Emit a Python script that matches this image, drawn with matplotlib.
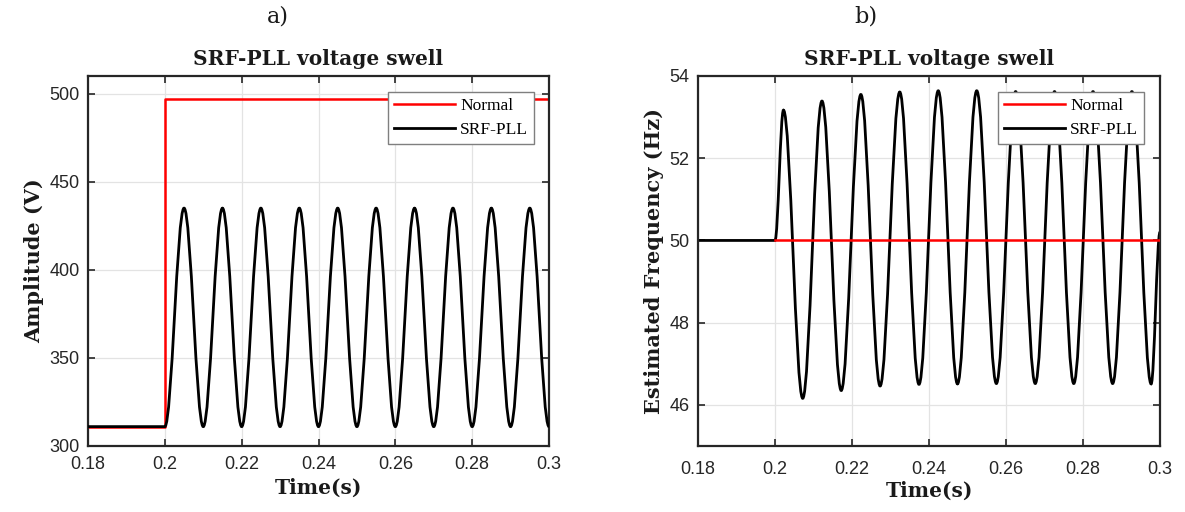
#!/usr/bin/env python3
"""SRF-PLL response to a voltage swell: amplitude and estimated frequency."""

import matplotlib
matplotlib.use("Agg")
import matplotlib.pyplot as plt
from matplotlib.path import Path
from matplotlib.patches import PathPatch
from matplotlib.lines import Line2D

# ---- data (extrema of each waveform) ----
# a) amplitude
normal_a_t = [0.18, 0.20, 0.20, 0.30]
normal_a_v = [311, 311, 497, 497]

srf_a_t = [0.180, 0.200, 0.205, 0.210, 0.215, 0.220, 0.225, 0.230, 0.235,
           0.240, 0.245, 0.250, 0.255, 0.260, 0.265, 0.270, 0.275, 0.280,
           0.285, 0.290, 0.295, 0.300]
srf_a_v = [311, 311, 435, 311, 435, 311, 435, 311, 435,
           311, 435, 311, 435, 311, 435, 311, 435, 311,
           435, 311, 435, 311]

# b) estimated frequency
normal_b_t = [0.20, 0.30]
normal_b_v = [50.0, 50.0]

srf_b_t = [0.180, 0.2000, 0.2022, 0.2072, 0.2122, 0.2172, 0.2223, 0.2273,
           0.2324, 0.2374, 0.2424, 0.2474, 0.2524, 0.2575, 0.2625, 0.2676,
           0.2726, 0.2776, 0.2826, 0.2877, 0.2927, 0.2977, 0.3000]
srf_b_v = [50.0, 50.0, 53.17, 46.16, 53.39, 46.35, 53.55, 46.46,
           53.61, 46.50, 53.64, 46.51, 53.64, 46.52, 53.62, 46.52,
           53.62, 46.52, 53.62, 46.52, 53.62, 46.51, 50.2]

x_ticks = [0.18, 0.2, 0.22, 0.24, 0.26, 0.28, 0.3]
x_tick_labels = ["0.18", "0.2", "0.22", "0.24", "0.26", "0.28", "0.3"]
a_y_ticks = [300, 350, 400, 450, 500]
b_y_ticks = [46, 48, 50, 52, 54]

SERIF = "DejaVu Serif"
LEG_SERIF = "Liberation Serif"
SANS = "Liberation Sans"
AX_COLOR = "#262626"


def smooth_path(t, v, k=0.364):
    """Cubic Bezier through the extrema with flat tangents (sine-like)."""
    verts = [(t[0], v[0])]
    codes = [Path.MOVETO]
    for i in range(len(t) - 1):
        dt = t[i + 1] - t[i]
        verts += [(t[i] + k * dt, v[i]), (t[i + 1] - k * dt, v[i + 1]),
                  (t[i + 1], v[i + 1])]
        codes += [Path.CURVE4] * 3
    return Path(verts, codes)


def style_axes(ax, title, ylabel, yticks, ylim, xpad, xlabelpad):
    ax.set_xlim(0.18, 0.3)
    ax.set_ylim(*ylim)
    ax.set_xticks(x_ticks)
    ax.set_xticklabels(x_tick_labels)
    ax.set_yticks(yticks)
    ax.tick_params(direction="in", length=5, width=1.2, top=True, right=True,
                   colors=AX_COLOR, labelsize=13)
    ax.tick_params(axis="x", pad=xpad)
    ax.tick_params(axis="y", pad=6)
    for lab in ax.get_xticklabels() + ax.get_yticklabels():
        lab.set_fontfamily(SANS)
    for s in ax.spines.values():
        s.set_color(AX_COLOR)
        s.set_linewidth(1.6)
    ax.grid(True, color="#e3e3e3", linewidth=0.9)
    ax.set_axisbelow(True)
    ax.set_title(title, fontfamily=SERIF, fontweight="bold", fontsize=14.5,
                 pad=8, color="#1a1a1a")
    ax.set_xlabel("Time(s)", fontfamily=SERIF, fontweight="bold", fontsize=14.5,
                  color="#1a1a1a", labelpad=xlabelpad)
    ax.set_ylabel(ylabel, fontfamily=SERIF, fontweight="bold", fontsize=15,
                  color="#1a1a1a", labelpad=4)


def add_legend(ax, anchor):
    handles = [Line2D([], [], color="#ff0000", lw=1.8),
               Line2D([], [], color="black", lw=2.0)]
    leg = ax.legend(handles, ["Normal", "SRF-PLL"], loc="upper right",
                    bbox_to_anchor=anchor, borderaxespad=0, handlelength=3.5,
                    fancybox=False, framealpha=1, edgecolor="#7f7f7f",
                    prop={"family": LEG_SERIF, "size": 12.5}, borderpad=0.35,
                    labelspacing=0.45, handletextpad=0.3)
    leg.get_frame().set_linewidth(1.0)
    leg.set_zorder(10)


fig = plt.figure(figsize=(11.85, 5.12), dpi=100)
ax1 = fig.add_axes([88 / 1185, 1 - 446 / 512, 461 / 1185, 370 / 512])
ax2 = fig.add_axes([698 / 1185, 1 - 446 / 512, 462 / 1185, 370 / 512])

# a) amplitude
ax1.plot(normal_a_t, normal_a_v, color="#ff0000", lw=1.8, zorder=2)
ax1.add_patch(PathPatch(smooth_path(srf_a_t, srf_a_v), fill=False,
                        edgecolor="black", lw=2.0, zorder=3))
style_axes(ax1, "SRF-PLL voltage swell", "Amplitude (V)", a_y_ticks,
           (300, 510), 7, 4)
add_legend(ax1, (1 - 15 / 461, 1 - 16 / 370))

# b) frequency
ax2.add_patch(PathPatch(smooth_path(srf_b_t, srf_b_v), fill=False,
                        edgecolor="black", lw=2.0, zorder=2))
ax2.plot(normal_b_t, normal_b_v, color="#ff0000", lw=1.8, zorder=3)
style_axes(ax2, "SRF-PLL voltage swell", "Estimated Frequency (Hz)",
           b_y_ticks, (45, 54), 11, 2)
add_legend(ax2, (1 - 16 / 462, 1 - 16 / 370))

fig.text(278 / 1185, 1 - 16 / 512, "a)", family=SERIF, fontsize=16,
         ha="center", va="center", color="#1a1a1a")
fig.text(866 / 1185, 1 - 16 / 512, "b)", family=SERIF, fontsize=16,
         ha="center", va="center", color="#1a1a1a")

fig.savefig("out.png", dpi=100)
